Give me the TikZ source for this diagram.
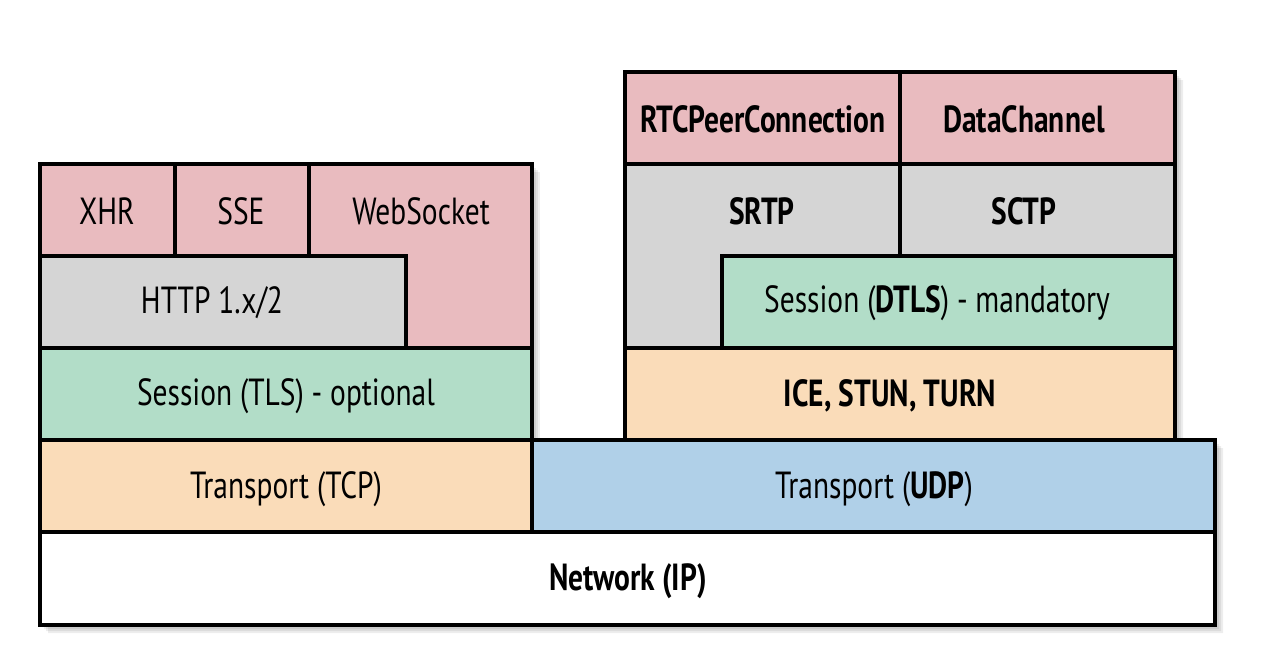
\documentclass[tikz,border=0pt]{standalone}
\usepackage{fontspec}
\setmainfont[FakeStretch=0.78]{PT Sans}
\definecolor{apipink}{HTML}{E9BBBF}
\definecolor{protogray}{HTML}{D5D5D5}
\definecolor{sessiongreen}{HTML}{B2DDC8}
\definecolor{transorange}{HTML}{FADCB9}
\definecolor{udpblue}{HTML}{B0D0E8}
\begin{document}
\begin{tikzpicture}[x=0.02cm,y=-0.02cm,
  layer/.style={draw=black,line width=2pt,line join=miter},
  lbl/.style={font=\fontsize{21.5}{24}\selectfont}]
\useasboundingbox (0,0) rectangle (1269,659);
\def\leftstack{(40,164) -- (532,164) -- (532,532) -- (40,532) -- cycle}
\def\rightstack{(625,72) -- (1175,72) -- (1175,440) -- (1215,440) -- (1215,625) -- (40,625) -- (40,532) -- (532,532) -- (532,440) -- (625,440) -- cycle}

% soft shadow below and to the right
\foreach \d in {2,4,6,8} {
  \fill[black,opacity=0.07,shift={(\d,\d)}] \leftstack;
  \fill[black,opacity=0.07,shift={(\d,\d)}] \rightstack;
}

% HTTP side
\filldraw[layer,fill=apipink] (40,164) rectangle (175,256);
\filldraw[layer,fill=apipink] (175,164) rectangle (309,256);
\filldraw[layer,fill=apipink] (309,164) -- (532,164) -- (532,348) -- (406,348) -- (406,256) -- (309,256) -- cycle;
\filldraw[layer,fill=protogray] (40,256) rectangle (406,348);
\filldraw[layer,fill=sessiongreen] (40,348) rectangle (532,440);
\filldraw[layer,fill=transorange] (40,440) rectangle (532,532);

% WebRTC side
\filldraw[layer,fill=apipink] (625,72) rectangle (900,164);
\filldraw[layer,fill=apipink] (900,72) rectangle (1175,164);
\filldraw[layer,fill=protogray] (625,164) -- (900,164) -- (900,256) -- (722,256) -- (722,348) -- (625,348) -- cycle;
\filldraw[layer,fill=protogray] (900,164) rectangle (1175,256);
\filldraw[layer,fill=sessiongreen] (722,256) rectangle (1175,348);
\filldraw[layer,fill=transorange] (625,348) rectangle (1175,440);
\filldraw[layer,fill=udpblue] (532,440) rectangle (1215,532);

% shared bottom
\filldraw[layer,fill=white] (40,532) rectangle (1215,625);

\node[lbl] (xhr) at (107,211) {XHR};
\node[lbl] (sse) at (241,211) {SSE};
\node[lbl] (websocket) at (421,211) {WebSocket};
\node[lbl] (http) at (212,303) {HTTP 1.x/2};
\node[lbl] (tls) at (286,396) {Session (TLS) - optional};
\node[lbl] (tcp) at (286,489) {Transport (TCP)};

\node[lbl] (peer) at (763,119) {\bfseries RTCPeerConnection};
\node[lbl] (channel) at (1024,119) {\bfseries DataChannel};
\node[lbl] (srtp) at (762,211) {\bfseries SRTP};
\node[lbl] (sctp) at (1024,211) {\bfseries SCTP};
\node[lbl] (dtls) at (937,303) {Session (\textbf{DTLS}) - mandatory};
\node[lbl] (ice) at (890,396) {\bfseries ICE, STUN, TURN};
\node[lbl] (udp) at (874,489) {Transport (\textbf{UDP})};
\node[lbl] (ip) at (628,581) {\bfseries Network (IP)};
\end{tikzpicture}
\end{document}
